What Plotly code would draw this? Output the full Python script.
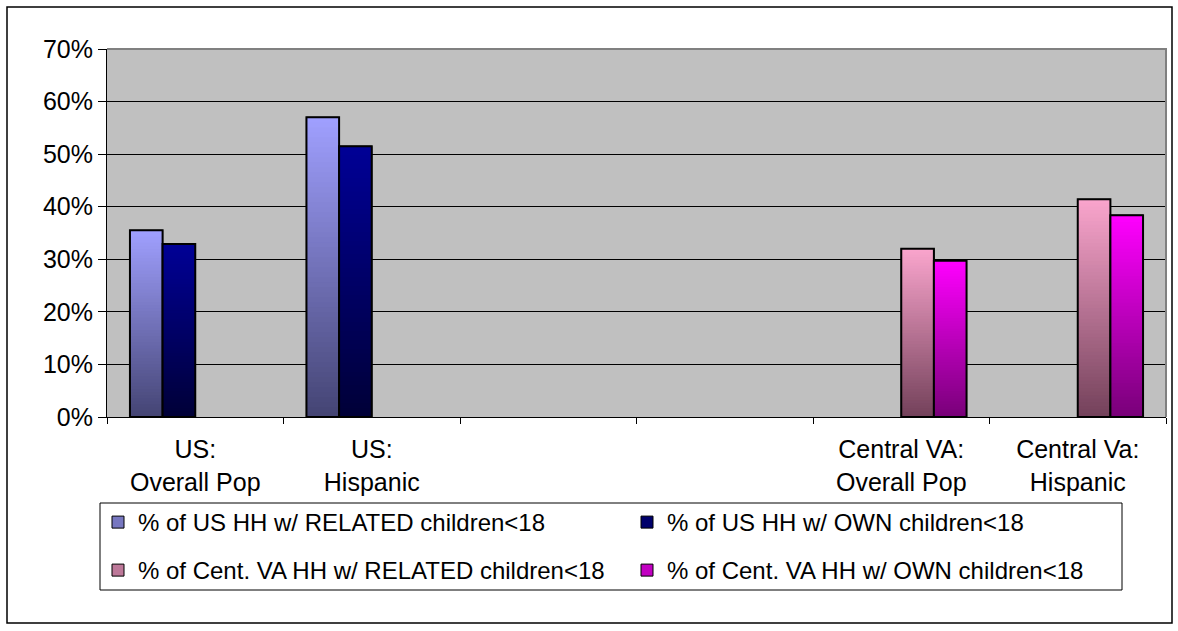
import plotly.graph_objects as go

# ---------------- data ----------------
categories = ["US:<br>Overall Pop", "US:<br>Hispanic", "\u00a0", "\u00a0\u00a0",
              "Central VA:<br>Overall Pop", "Central Va:<br>Hispanic"]
us_categories = [categories[0], categories[1]]
va_categories = [categories[4], categories[5]]

us_related = [0.355, 0.570]
us_own = [0.329, 0.515]
va_related = [0.320, 0.414]
va_own = [0.297, 0.384]

series_names = [
    "% of US HH w/ RELATED children<18",
    "% of US HH w/ OWN children<18",
    "% of Cent. VA HH w/ RELATED children<18",
    "% of Cent. VA HH w/ OWN children<18",
]
y_ticks = [0, 0.1, 0.2, 0.3, 0.4, 0.5, 0.6, 0.7]

# ---------------- style ----------------
W, H = 1178, 631
ML, MR, MT, MB = 107, 12, 49, 214
PW, PH = W - ML - MR, H - MT - MB
FONT = "Liberation Sans, Arial, sans-serif"


def px_x(p):
    return (p - ML) / PW


def px_y(p):
    return (H - MB - p) / PH


styles = [
    # top colour, bottom colour, legend
    ((160, 160, 255), (68, 68, 115), "legend"),
    ((0, 0, 150), (0, 0, 55), "legend"),
    ((250, 165, 205), (115, 65, 90), "legend2"),
    ((255, 0, 255), (120, 0, 120), "legend2"),
]

series = [
    (us_categories, us_related),
    (us_categories, us_own),
    (va_categories, va_related),
    (va_categories, va_own),
]

N = 60


def mix(a, b, t):
    return "rgb(%d,%d,%d)" % tuple(round(b[i] + (a[i] - b[i]) * t) for i in range(3))


fig = go.Figure()

# register all categories (including empty ones)
fig.add_trace(go.Scatter(x=categories, y=[None] * len(categories), mode="markers",
                         showlegend=False, hoverinfo="skip"))

for idx, ((cats, vals), name, (top, bot, leg)) in enumerate(zip(series, series_names, styles)):
    og = str(idx + 1)
    # legend / base bar
    fig.add_trace(go.Bar(
        x=cats, y=vals, base=[0] * len(vals), name=name, offsetgroup=og, legend=leg,
        marker=dict(color=mix(top, bot, 0.55), line=dict(color="black", width=1)),
        hoverinfo="skip",
    ))
    # gradient (overlapping bars from base 0, shrinking)
    gx, gy, gc = [], [], []
    for c, v in zip(cats, vals):
        for k in range(N, 0, -1):
            gx.append(c)
            gy.append(v * k / N)
            gc.append(mix(top, bot, (k - 0.5) / N))
    fig.add_trace(go.Bar(
        x=gx, y=gy, base=[0] * len(gy), offsetgroup=og, showlegend=False,
        marker=dict(color=gc, line=dict(width=0)), hoverinfo="skip",
    ))
    # outline
    fig.add_trace(go.Bar(
        x=cats, y=vals, base=[0] * len(vals), offsetgroup=og, showlegend=False,
        marker=dict(color="rgba(0,0,0,0)", line=dict(color="black", width=2)),
        hoverinfo="skip",
    ))

legend_common = dict(
    orientation="h", xanchor="left", yanchor="top",
    x=px_x(98), bgcolor="rgba(0,0,0,0)", borderwidth=0,
    font=dict(family=FONT, size=24, color="black"),
    entrywidth=484, entrywidthmode="pixels", itemclick=False,
)

fig.update_layout(
    width=W, height=H,
    margin=dict(l=ML, r=MR, t=MT, b=MB),
    paper_bgcolor="white", plot_bgcolor="#C0C0C0",
    barmode="group", bargap=0.26, bargroupgap=0,
    font=dict(family=FONT, size=25, color="black"),
    legend=dict(**legend_common, y=px_y(500)),
    legend2=dict(**legend_common, y=px_y(548)),
    xaxis=dict(
        type="category", categoryorder="array", categoryarray=categories,
        range=[-0.5, len(categories) - 0.5],
        tickson="boundaries", ticks="outside", ticklen=6, tickcolor="black",
        showline=True, linecolor="black", linewidth=1, showgrid=False,
        ticklabelstandoff=10,
        tickfont=dict(family=FONT, size=25, color="black"),
    ),
    yaxis=dict(
        range=[0, 0.7], tickvals=y_ticks, tickformat=".0%",
        ticks="outside", ticklen=8, tickcolor="black",
        showline=True, linecolor="black", linewidth=1,
        showgrid=True, gridcolor="black", gridwidth=1, zeroline=False,
        tickfont=dict(family=FONT, size=25, color="black"),
    ),
    shapes=[
        # plot-area top/right border
        dict(type="path", xref="paper", yref="paper", path="M0,1 L1,1 L1,0",
             line=dict(color="#808080", width=2), layer="above"),
        # legend box
        dict(type="rect", xref="paper", yref="paper",
             x0=px_x(100), x1=px_x(1122), y0=px_y(590), y1=px_y(503),
             line=dict(color="black", width=1), fillcolor="rgba(0,0,0,0)"),
        # chart frame
        dict(type="rect", xref="paper", yref="paper",
             x0=px_x(7), x1=px_x(1172), y0=px_y(623), y1=px_y(7),
             line=dict(color="black", width=1.5), fillcolor="rgba(0,0,0,0)"),
    ],
)

fig.write_html("out.html")
